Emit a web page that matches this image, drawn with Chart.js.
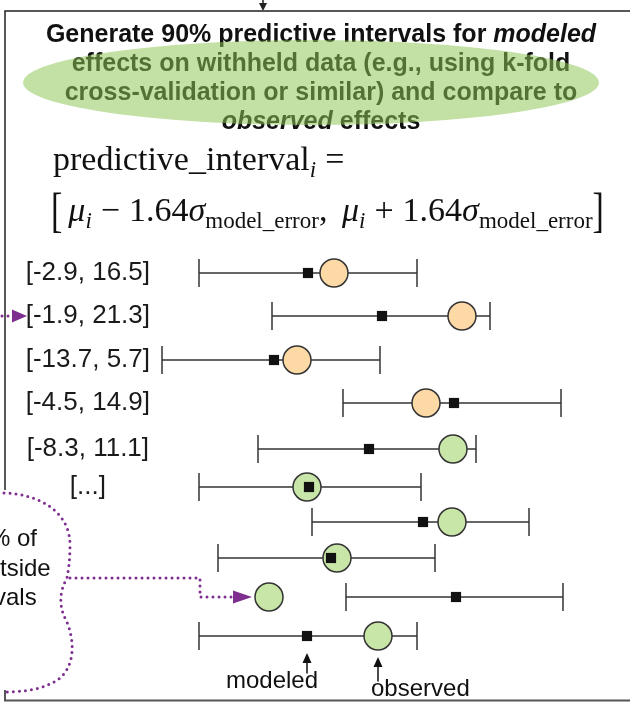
<!DOCTYPE html>
<html>
<head>
<meta charset="utf-8">
<title>Predictive intervals</title>
<script src="https://cdn.jsdelivr.net/npm/chart.js@4.4.1/dist/chart.umd.min.js"></script>
<style>
  body { margin: 0; background: #fff; }
  #page { position: relative; width: 630px; height: 703px; overflow: hidden; font-family: "Liberation Sans", Arial, sans-serif; color: #111; }
  #chart { position: absolute; left: 0; top: 0; }
  .head { position: absolute; left: 0; top: 19px; width: 642px; text-align: center; font-weight: bold; font-size: 25px; line-height: 29px; z-index: 1; }
  .blob { position: absolute; left: 23px; top: 40px; width: 576px; height: 85px; border-radius: 50%; background: rgba(141, 198, 85, 0.53); z-index: 2; }
  .formula { position: absolute; font-family: "Liberation Serif", "Times New Roman", serif; font-size: 34px; line-height: 34px; white-space: nowrap; z-index: 1; }
  .formula sub { font-size: 23px; line-height: 0; vertical-align: -7px; }
  .formula .br { display: inline-block; transform: scaleY(1.45); }
  .formula .br.l { margin-right: 6px; }
  .formula .op { margin: 0 9px; }
  .formula .cm { margin-right: 6px; }
  .note { position: absolute; font-size: 24px; line-height: 24px; white-space: nowrap; z-index: 1; }
</style>
</head>
<body>
<div id="page">
  <canvas id="chart" width="630" height="703"></canvas>

  <div class="head">
    Generate 90% predictive intervals for <i>modeled</i><br>
    effects on withheld data (e.g., using k-fold<br>
    cross-validation or similar) and compare to<br>
    <i>observed</i> effects
  </div>
  <div class="blob"></div>

  <div class="formula" style="left:53px; top:142px;">predictive_interval<sub><i>i</i></sub><span class="op">=</span></div>
  <div class="formula" style="left:51px; top:193px;"><span class="br l">[</span><i>μ</i><sub><i>i</i></sub><span class="op">−</span>1.64<i>σ</i><sub>model_error</sub><span class="cm">,</span> <i>μ</i><sub><i>i</i></sub><span class="op">+</span>1.64<i>σ</i><sub>model_error</sub><span class="br">]</span></div>

  <div class="note" style="left:-11px; top:526px;">% of</div>
  <div class="note" style="left:0px; top:556px;">tside</div>
  <div class="note" style="left:-6px; top:585px;">vals</div>

  <div class="note" style="left:226px; top:668px;">modeled</div>
  <div class="note" style="left:371px; top:676px;">observed</div>
</div>

<script>
// interval labels shown on the left, one per row (the rest are unlabeled)
const rowLabels = ['[-2.9, 16.5]', '[-1.9, 21.3]', '[-13.7, 5.7]', '[-4.5, 14.9]', '[-8.3, 11.1]', '[...]'];
// vertical row positions
const rowPos   = [27.3, 31.6, 36.0, 40.3, 44.9, 48.7, 52.2, 55.8, 59.7, 63.6];
// 90% predictive interval ends, modeled effect and observed effect (display units)
const lower    = [3.9, 11.2, 0.2, 18.3, 9.8, 3.9, 15.2, 5.8, 18.6, 3.9];
const upper    = [25.7, 33.0, 22.0, 40.1, 31.6, 26.1, 36.9, 27.5, 40.3, 25.7];
const modeled  = [14.8, 22.2, 11.4, 29.4, 20.9, 14.9, 26.3, 17.1, 29.6, 14.7];
const observed = [17.4, 30.2, 13.7, 26.6, 29.3, 14.7, 29.2, 17.7, 10.9, 21.8];
// first group of rows is highlighted orange
const firstGroup = [1, 1, 1, 1, 0, 0, 0, 0, 0, 0];

const pts = (xs) => xs.map((x, i) => ({ x: x, y: rowPos[i] }));

const purple = '#7d2e8e';

function head(ctx, tx, ty, dx, dy, len, half) {
    // filled triangle with tip at (tx, ty), pointing along (dx, dy)
    const bx = tx - dx * len, by = ty - dy * len;
    ctx.beginPath();
    ctx.moveTo(tx, ty);
    ctx.lineTo(bx - dy * half, by + dx * half);
    ctx.lineTo(bx + dy * half, by - dx * half);
    ctx.closePath();
    ctx.fill();
}

const decor = {
    id: 'decor',
    afterDraw(chart) {
        const { ctx, scales: { x, y } } = chart;
        ctx.save();

        // frame of the step box
        ctx.strokeStyle = '#222';
        ctx.lineWidth = 1.5;
        ctx.beginPath();
        ctx.moveTo(630, 11); ctx.lineTo(5, 11); ctx.lineTo(5, 490);
        ctx.moveTo(5, 690); ctx.lineTo(5, 700);
        ctx.stroke();
        ctx.strokeStyle = '#555';
        ctx.lineWidth = 2;
        ctx.beginPath(); ctx.moveTo(4, 700.5); ctx.lineTo(630, 700.5); ctx.stroke();

        // incoming arrow at the top
        ctx.strokeStyle = '#222'; ctx.fillStyle = '#222'; ctx.lineWidth = 1.5;
        ctx.beginPath(); ctx.moveTo(263, 0); ctx.lineTo(263, 4); ctx.stroke();
        head(ctx, 263, 11, 0, 1, 8, 4);

        // purple arrow pointing at the second interval label
        const y2 = y.getPixelForValue(rowPos[1]);
        ctx.fillStyle = purple; ctx.strokeStyle = purple;
        head(ctx, 27, y2, 1, 0, 15, 6.5);
        ctx.lineWidth = 3; ctx.lineCap = 'round'; ctx.setLineDash([0, 6]);
        ctx.beginPath(); ctx.moveTo(2, y2); ctx.lineTo(9, y2); ctx.stroke();

        // dotted bubble on the left
        ctx.beginPath();
        ctx.moveTo(4, 493);
        ctx.bezierCurveTo(40, 494, 70, 512, 70, 545);
        ctx.bezierCurveTo(70, 562, 68, 572, 67, 578);
        ctx.bezierCurveTo(60, 590, 58, 605, 66, 620);
        ctx.bezierCurveTo(75, 640, 75, 665, 60, 678);
        ctx.bezierCurveTo(45, 690, 20, 692, 4, 692);
        ctx.stroke();

        // dotted connector to the observed value outside its interval
        const k = 8;
        const ox = x.getPixelForValue(observed[k]);
        const oy = y.getPixelForValue(rowPos[k]);
        const tip = ox - 17;
        ctx.beginPath();
        ctx.moveTo(70, 578); ctx.lineTo(200, 578); ctx.lineTo(200, oy); ctx.lineTo(tip - 18, oy);
        ctx.stroke();
        ctx.setLineDash([]);
        head(ctx, tip, oy, 1, 0, 19, 6.5);

        // "modeled" / "observed" pointers on the last row
        const last = rowPos.length - 1;
        const ly = y.getPixelForValue(rowPos[last]);
        const mx = x.getPixelForValue(modeled[last]);
        const bx = x.getPixelForValue(observed[last]);
        ctx.strokeStyle = '#111'; ctx.fillStyle = '#111'; ctx.lineWidth = 1.5;
        ctx.beginPath(); ctx.moveTo(mx, ly + 25); ctx.lineTo(mx, ly + 37); ctx.stroke();
        head(ctx, mx, ly + 17, 0, -1, 10, 4.5);
        ctx.beginPath(); ctx.moveTo(bx, ly + 29); ctx.lineTo(bx, ly + 45); ctx.stroke();
        head(ctx, bx, ly + 21, 0, -1, 10, 4.5);

        ctx.restore();
    }
};

const intervalSets = rowPos.map((yv, i) => ({
    type: 'scatter',
    data: [{ x: lower[i], y: yv }, { x: upper[i], y: yv }],
    showLine: true,
    borderColor: '#333',
    borderWidth: 1.5,
    pointRadius: 0,
    order: 3
}));

new Chart(document.getElementById('chart'), {
    type: 'scatter',
    data: {
        datasets: [
            {
                label: 'modeled',
                data: pts(modeled),
                pointStyle: 'rect',
                pointRadius: 7.2,
                pointBackgroundColor: '#111',
                pointBorderWidth: 0,
                order: 0
            },
            {
                label: 'observed',
                data: pts(observed),
                pointStyle: 'circle',
                pointRadius: 14,
                pointBackgroundColor: firstGroup.map(g => g ? '#fdd9a6' : '#c8e6a8'),
                pointBorderColor: '#333',
                pointBorderWidth: 1.5,
                order: 1
            },
            {
                label: 'ends',
                data: pts(lower).concat(pts(upper)),
                pointStyle: 'line',
                pointRadius: 14,
                pointRotation: 90,
                pointBorderColor: '#333',
                pointBorderWidth: 1.5,
                order: 2
            },
            ...intervalSets
        ]
    },
    options: {
        responsive: false,
        animation: false,
        events: [],
        layout: { autoPadding: false, padding: { left: 0, right: 0, top: 40, bottom: 40 } },
        plugins: { legend: { display: false }, tooltip: { enabled: false } },
        scales: {
            x: { type: 'linear', min: 0, max: 47, display: false },
            y: {
                type: 'linear',
                reverse: true,
                min: 4.0,
                max: 66.3,
                position: 'left',
                afterFit: (s) => { s.width = 160; },
                afterBuildTicks: (s) => { s.ticks = rowPos.slice(0, rowLabels.length).map(v => ({ value: v })); },
                grid: { display: false, drawTicks: false },
                border: { display: false },
                ticks: {
                    autoSkip: false,
                    crossAlign: 'center',
                    padding: 10,
                    color: '#1a1a1a',
                    font: { family: '"Liberation Sans", Arial, sans-serif', size: 26 },
                    callback: (v, i) => rowLabels[i]
                }
            }
        }
    },
    plugins: [decor]
});
</script>
</body>
</html>
